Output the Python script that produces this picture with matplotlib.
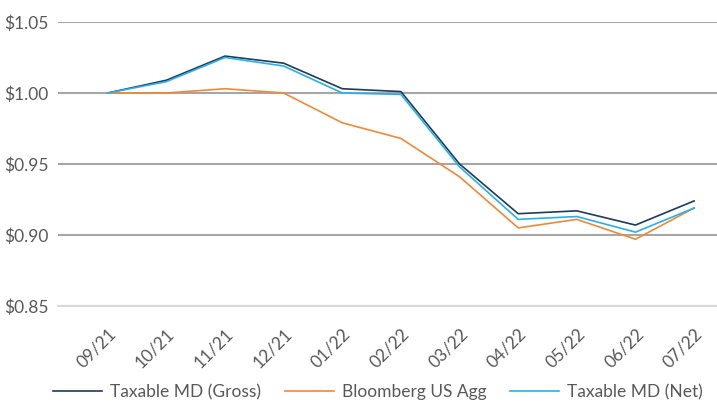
import numpy as np
import matplotlib.pyplot as plt

plt.rcParams['font.family'] = ['Lato', 'DejaVu Sans']

months = ['09/21', '10/21', '11/21', '12/21', '01/22', '02/22',
          '03/22', '04/22', '05/22', '06/22', '07/22']
gross = [1.000, 1.009, 1.026, 1.021, 1.003, 1.001, 0.950, 0.915, 0.917, 0.907, 0.924]
agg = [1.000, 1.000, 1.003, 1.000, 0.979, 0.968, 0.941, 0.905, 0.911, 0.897, 0.919]
net = [1.000, 1.008, 1.025, 1.019, 1.000, 0.999, 0.948, 0.911, 0.913, 0.902, 0.919]
yticks = [0.85, 0.90, 0.95, 1.00, 1.05]

fig = plt.figure(figsize=(7.17, 4.09), dpi=100)
ax = fig.add_axes([58/717, 103/409, 659/717, 284/409])

x = np.arange(len(months))
ax.plot(x, gross, color='#1f3b57', lw=1.2, label='Taxable MD (Gross)')
ax.plot(x, agg, color='#f0883a', lw=1.2, label='Bloomberg US Agg')
ax.plot(x, net, color='#2ab0e8', lw=1.2, label='Taxable MD (Net)')

ax.set_ylim(0.85, 1.05)
ax.set_xlim(-0.848, 10.39)
ax.set_yticks(yticks)
ax.set_yticklabels(['$%.2f' % v for v in yticks])
ax.set_xticks(x)
ax.set_xticklabels(months, rotation=45, ha='right', va='top',
                   rotation_mode='anchor')
ax.tick_params(length=0, labelsize=12.5, labelcolor='#595959')
ax.tick_params(axis='y', pad=7)
ax.tick_params(axis='x', pad=14)

ax.grid(axis='y', color='#a6a6a6', lw=1.5)
ax.set_axisbelow(True)
for s in ['top', 'right', 'left']:
    ax.spines[s].set_visible(False)
ax.spines['bottom'].set_color('#d9d9d9')
ax.spines['bottom'].set_linewidth(1.5)

fig.legend(loc='center', bbox_to_anchor=(378/717, 17/409),
           ncol=3, frameon=False, fontsize=12.5, labelcolor='#595959',
           handlelength=2.8, handletextpad=0.45, columnspacing=1.4)

fig.savefig('out.png', dpi=100)
